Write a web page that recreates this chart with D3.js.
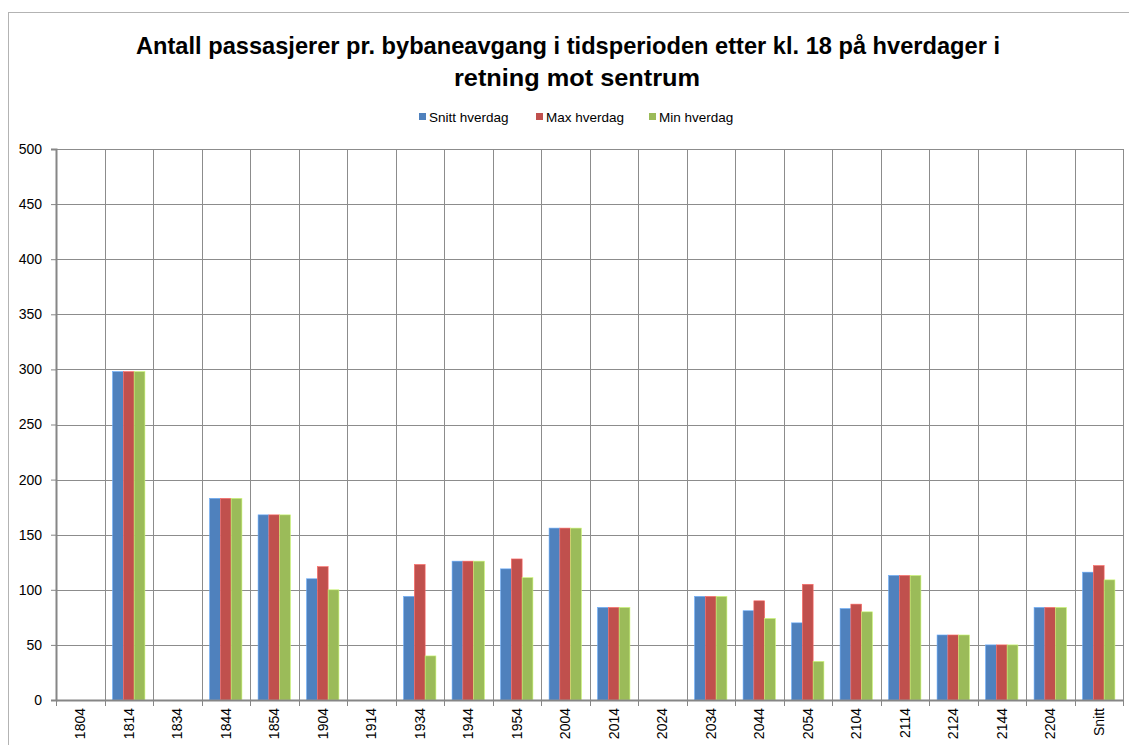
<!DOCTYPE html>
<html>
<head>
<meta charset="utf-8">
<script src="https://cdn.jsdelivr.net/npm/d3@7"></script>
<style>
  body { margin: 0; background: #fff; }
  svg { display: block; font-family: "Liberation Sans", Arial, sans-serif; }
</style>
</head>
<body>
<div id="chart"></div>
<script>
// data
var avganger = ["1804", "1814", "1834", "1844", "1854", "1904", "1914", "1934", "1944", "1954", "2004",
                "2014", "2024", "2034", "2044", "2054", "2104", "2114", "2124", "2144", "2204", "Snitt"];
var snitt = [0, 298, 0, 183, 168, 110, 0, 94, 126, 119, 156, 84, 0, 94, 81, 70, 83, 113, 59, 50, 84, 116];
var maks  = [0, 298, 0, 183, 168, 121, 0, 123, 126, 128, 156, 84, 0, 94, 90, 105, 87, 113, 59, 50, 84, 122];
var minst = [0, 298, 0, 183, 168, 100, 0, 40, 126, 111, 156, 84, 0, 94, 74, 35, 80, 113, 59, 50, 84, 109];
var serieNavn = ["Snitt hverdag", "Max hverdag", "Min hverdag"];
var farger = ["#4f81bd", "#c0504d", "#9bbb59"];
var yTicks = [0, 50, 100, 150, 200, 250, 300, 350, 400, 450, 500];

const width = 1129, height = 745;
const plot = { left: 56, right: 1123, top: 149, bottom: 700 };

var svg = d3.select("#chart").append("svg")
    .attr("width", width)
    .attr("height", height);

// ramme rundt diagrammet
svg.append("rect")
    .attr("x", 8.5).attr("y", 12.5)
    .attr("width", 1140).attr("height", 760)
    .attr("fill", "#fff")
    .attr("stroke", "#b3b3b3");

// tittel
var title = svg.append("g").attr("class", "title")
    .attr("font-weight", "bold")
    .attr("font-size", "24px")
    .attr("fill", "#000")
    .attr("text-anchor", "middle");
title.append("text").attr("x", 568).attr("y", 54)
    .attr("textLength", 864).attr("lengthAdjust", "spacingAndGlyphs")
    .text("Antall passasjerer pr. bybaneavgang i tidsperioden etter kl. 18 på hverdager i");
title.append("text").attr("x", 577).attr("y", 86)
    .attr("textLength", 246).attr("lengthAdjust", "spacingAndGlyphs")
    .text("retning mot sentrum");

// skalaer
var x = d3.scaleBand().domain(avganger).range([plot.left, plot.right]);
var w = x.bandwidth() / 4.5;
var xSub = d3.scaleBand().domain(serieNavn).range([0.75 * w, 3.75 * w]);
var y = d3.scaleLinear().domain([0, 500]).range([plot.bottom, plot.top]);

// horisontale rutenett
svg.append("g").selectAll("line")
    .data(yTicks.filter(function(d) { return d > 0; }))
    .enter().append("line")
    .attr("x1", plot.left).attr("x2", plot.right)
    .attr("y1", function(d) { return Math.round(y(d)) + 0.5; })
    .attr("y2", function(d) { return Math.round(y(d)) + 0.5; })
    .attr("stroke", "#8c8c8c");

// vertikale rutenett
svg.append("g").selectAll("line")
    .data(avganger)
    .enter().append("line")
    .attr("x1", function(d) { return Math.round(x(d) + x.bandwidth()) + 0.5; })
    .attr("x2", function(d) { return Math.round(x(d) + x.bandwidth()) + 0.5; })
    .attr("y1", plot.top).attr("y2", plot.bottom)
    .attr("stroke", "#8c8c8c");

// stolper
var serier = [snitt, maks, minst];
serier.forEach(function(verdier, s) {
  svg.append("g").selectAll("rect")
      .data(verdier.map(function(v, i) { return { kat: avganger[i], v: v }; }).filter(function(d) { return d.v > 0; }))
      .enter().append("rect")
      .attr("x", function(d) { return x(d.kat) + xSub(serieNavn[s]); })
      .attr("y", function(d) { return y(d.v); })
      .attr("width", xSub.bandwidth())
      .attr("height", function(d) { return y(0) - y(d.v); })
      .attr("fill", farger[s])
      .attr("stroke", d3.color(farger[s]).brighter(0.8))
      .attr("stroke-width", 0.6);
});

// y-akse
var yAxis = svg.append("g")
    .attr("transform", "translate(" + plot.left + ",0)")
    .call(d3.axisLeft(y).tickValues(yTicks).tickSize(5).tickPadding(9));
yAxis.select(".domain").attr("stroke", "#868686").attr("stroke-width", 2);
yAxis.selectAll(".tick line").attr("stroke", "#868686");
yAxis.selectAll("text").attr("font-size", "14px").attr("fill", "#000")
    .attr("font-family", "Liberation Sans, Arial, sans-serif");

// x-akse
var xAxis = svg.append("g")
    .attr("transform", "translate(0," + plot.bottom + ")")
    .call(d3.axisBottom(x).tickSize(0).tickPadding(0));
xAxis.select(".domain").attr("stroke", "#868686").attr("stroke-width", 2);
xAxis.selectAll("text")
    .attr("font-size", "14px").attr("fill", "#000")
    .attr("font-family", "Liberation Sans, Arial, sans-serif")
    .attr("text-anchor", "end")
    .attr("dy", "0.35em")
    .attr("transform", "translate(0,8) rotate(-90)");
// tickmerker mellom kategoriene
svg.append("g").selectAll("line")
    .data([avganger[0]].concat(avganger))
    .enter().append("line")
    .attr("x1", function(d, i) { return Math.round(plot.left + i * x.bandwidth()) + 0.5; })
    .attr("x2", function(d, i) { return Math.round(plot.left + i * x.bandwidth()) + 0.5; })
    .attr("y1", plot.bottom).attr("y2", plot.bottom + 6)
    .attr("stroke", "#868686");

// forklaring
var legendX = [419, 536, 649];
var legend = svg.append("g").selectAll("g")
    .data(serieNavn)
    .enter().append("g")
    .attr("transform", function(d, i) { return "translate(" + legendX[i] + ",113)"; });
legend.append("rect")
    .attr("width", 7).attr("height", 7)
    .attr("fill", function(d, i) { return farger[i]; });
legend.append("text")
    .attr("x", 10).attr("y", 8.5)
    .attr("font-size", "13.5px")
    .text(function(d) { return d; });
</script>
</body>
</html>
